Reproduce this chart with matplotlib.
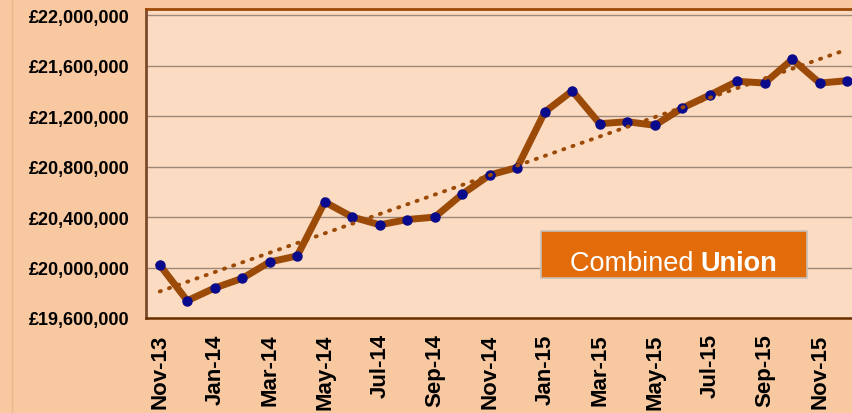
import matplotlib
matplotlib.use("Agg")
import matplotlib.pyplot as plt
import numpy as np
from matplotlib.ticker import FuncFormatter, FixedLocator

months = ["Nov-13", "Dec-13", "Jan-14", "Feb-14", "Mar-14", "Apr-14", "May-14",
          "Jun-14", "Jul-14", "Aug-14", "Sep-14", "Oct-14", "Nov-14", "Dec-14",
          "Jan-15", "Feb-15", "Mar-15", "Apr-15", "May-15", "Jun-15", "Jul-15",
          "Aug-15", "Sep-15", "Oct-15", "Nov-15", "Dec-15"]
values = [20020000, 19737000, 19838000, 19914000, 20044000, 20092000, 20519000,
          20400000, 20338000, 20380000, 20399000, 20581000, 20733000, 20792000,
          21232000, 21399000, 21139000, 21155000, 21126000, 21263000, 21366000,
          21475000, 21461000, 21649000, 21461000, 21480000]
yticks = [19600000, 20000000, 20400000, 20800000, 21200000, 21600000, 22000000]
label_text = ["Combined ", "Union"]

plt.rcParams['font.family'] = ['Liberation Sans', 'DejaVu Sans']

fig = plt.figure(figsize=(8.52, 4.14), dpi=100)
fig.patch.set_facecolor('#F8C8A0')
fig.add_artist(plt.Line2D([11.5/852, 11.5/852], [0, 1], transform=fig.transFigure,
                          color='#EBB890', lw=1))

ax = fig.add_axes([146/852, 95/414, 715/852, 309.5/414])
ax.set_facecolor('#FBDBC1')

x = np.arange(len(values))
ax.plot(x, values, color='#9B4A08', lw=5, solid_joinstyle='miter', zorder=3)
ax.plot(x, values, linestyle='none', marker='o', ms=6.5, mfc='#0A0A8C',
        mec='#0A0A8C', zorder=4)

coef = np.polyfit(x, values, 1)
trend = np.polyval(coef, x)
ax.plot(x, trend, color='#9B4A08', lw=2.8, linestyle=(0, (0.3, 2.2)),
        dash_capstyle='round', zorder=5)

ax.set_xlim(-0.5, len(values) - 0.5)
ax.set_ylim(19600000, 22051500)
ax.yaxis.set_major_locator(FixedLocator(yticks))
ax.yaxis.set_major_formatter(FuncFormatter(lambda v, p: "£{:,.0f}".format(v)))
ax.grid(axis='y', color='#A08878', lw=1)
ax.set_axisbelow(True)

ax.set_xticks(x[::2])
ax.set_xticklabels(months[::2], rotation=90, fontsize=16, fontweight='bold')
for lab in ax.get_yticklabels():
    lab.set_fontsize(13)
    lab.set_fontweight('bold')
ax.tick_params(axis='both', length=0)
ax.tick_params(axis='x', pad=11)
ax.tick_params(axis='y', pad=12)

ax.spines['right'].set_visible(False)
ax.spines['top'].set_color('#9B4A08')
ax.spines['top'].set_linewidth(2)
ax.spines['left'].set_color('#7A4A2A')
ax.spines['left'].set_linewidth(2)
ax.spines['bottom'].set_color('#6A3000')
ax.spines['bottom'].set_linewidth(1.8)

# label box
bx0, by0, bx1, by1 = 541/852, (414-279)/414, 807/852, (414-232)/414
rect = plt.Rectangle((bx0, by0), bx1 - bx0, by1 - by0, transform=fig.transFigure,
                     facecolor='#E36C0A', edgecolor='#C8C0B8', lw=1.2, zorder=10)
fig.add_artist(rect)
t1 = fig.text(0.0, 0.0, label_text[0], color='white', fontsize=19.5,
              family=['Liberation Sans Narrow', 'Liberation Sans'], zorder=11)
t2 = fig.text(0.0, 0.0, label_text[1], color='white', fontsize=19.5, fontweight='bold',
              family=['Liberation Sans Narrow', 'Liberation Sans'], zorder=11)
fig.canvas.draw()
r = fig.canvas.get_renderer()
w1 = t1.get_window_extent(r).width
w2 = t2.get_window_extent(r).width
cx = (568 + 779) / 2
start = cx - (w1 + w2) / 2
yb = (414 - 271) / 414
t1.set_position((start / 852, yb))
t1.set_va('baseline')
t2.set_position(((start + w1) / 852, yb))
t2.set_va('baseline')

fig.savefig("out.png", dpi=100, facecolor=fig.get_facecolor())
